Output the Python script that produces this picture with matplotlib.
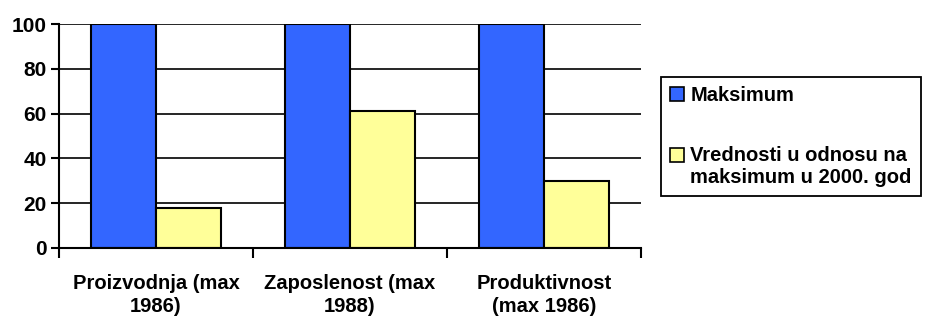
import numpy as np
import matplotlib
matplotlib.use('Agg')
import matplotlib.pyplot as plt
from matplotlib.patches import Patch, Rectangle
from matplotlib.legend_handler import HandlerPatch

categories = ['Proizvodnja (max\n1986)', 'Zaposlenost (max\n1988)', 'Produktivnost\n(max 1986)']
maksimum = [100, 100, 100]
vrednosti = [18, 61, 30]
series_labels = ['Maksimum', 'Vrednosti u odnosu na\nmaksimum u 2000. god']
yticks = [0, 20, 40, 60, 80, 100]

plt.rcParams['font.family'] = ['Liberation Sans', 'DejaVu Sans']
plt.rcParams['font.weight'] = 'bold'

blue = '#3366FF'
yellow = '#FFFF99'
fs = 14.5

fig = plt.figure(figsize=(9.25, 3.16), dpi=100)
ax = fig.add_axes([0.0638, 0.2152, 0.6292, 0.7088])

x = np.arange(len(categories))
w = 0.335
ax.bar(x - w / 2, maksimum, w, color=blue, edgecolor='black', linewidth=1.5, zorder=3)
ax.bar(x + w / 2, vrednosti, w, color=yellow, edgecolor='black', linewidth=1.5, zorder=3)

ax.set_xlim(-0.5, 2.5)
ax.set_ylim(0, 100)
ax.set_yticks(yticks)
for y in yticks[1:]:
    ax.axhline(y, color='black', linewidth=1.2, zorder=1)

ax.set_xticks(x)
ax.set_xticklabels(categories, fontweight='bold', fontsize=fs, linespacing=1.25)
ax.set_xticks(np.arange(-0.5, 3.0, 1.0), minor=True)
ax.tick_params(axis='x', which='major', length=0, pad=19)
ax.tick_params(axis='x', which='minor', length=7, width=1.5, direction='out')
ax.tick_params(axis='y', length=6, width=1.5, direction='out', pad=3, labelsize=15)
for lab in ax.get_yticklabels():
    lab.set_fontweight('bold')

for s in ['top', 'right']:
    ax.spines[s].set_visible(False)
ax.spines['left'].set_linewidth(1.5)
ax.spines['bottom'].set_linewidth(1.5)
ax.spines['bottom'].set_zorder(4)


# legend square aligned with the first text line of a two-line label
def top_square(legend, orig_handle, xdescent, ydescent, width, height, fontsize):
    return Rectangle((-xdescent, -ydescent + fontsize * 0.62), width, height)


handles = [Patch(facecolor=blue, edgecolor='black', linewidth=1.2),
           Patch(facecolor=yellow, edgecolor='black', linewidth=1.2)]
leg = fig.legend(handles, series_labels, loc='upper left',
                 bbox_to_anchor=(661 / 925, 1 - 77 / 316), borderaxespad=0,
                 handler_map={handles[1]: HandlerPatch(patch_func=top_square)},
                 frameon=True, fancybox=False, framealpha=1, handlelength=0.7, handleheight=0.7,
                 handletextpad=0.3, labelspacing=2.05, borderpad=0.45,
                 prop={'weight': 'bold', 'size': fs})
leg.get_frame().set_edgecolor('black')
leg.get_frame().set_linewidth(1.3)
for t in leg.get_texts():
    t.set_linespacing(1.2)

fig.savefig('out.png', dpi=100)
